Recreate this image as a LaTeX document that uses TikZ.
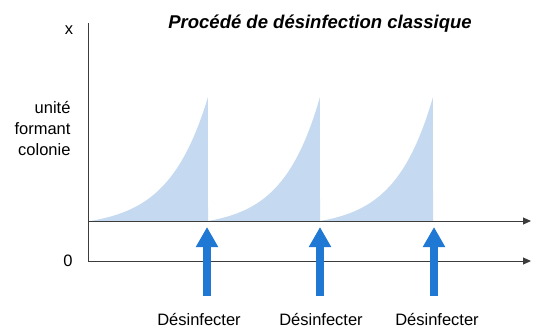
\documentclass[tikz,border=0pt]{standalone}
\usepackage{fontspec}
\setmainfont{Liberation Sans}
\usetikzlibrary{arrows.meta}
\definecolor{spikeblue}{RGB}{197,217,240}
\definecolor{arrowblue}{RGB}{31,120,212}
\definecolor{axisgray}{RGB}{60,60,60}
\begin{document}
\begin{tikzpicture}[x=1pt,y=-1pt,
  axis/.style={draw=axisgray, line width=1pt, -{Triangle[length=8pt,width=7pt]}},
  pulse/.style={draw=arrowblue, line width=8pt, -{Triangle[length=20pt,width=21pt]}},
  lbl/.style={font=\fontsize{16.5}{21}\selectfont}]
\useasboundingbox (0,0) rectangle (534,327);

% growth between two disinfections
\foreach \a/\b in {90/208, 208/320, 320/433} {
  \fill[spikeblue] plot[domain=0:1, samples=50] ({\a+(\b-\a)*\x}, {221-124*(exp(3*\x)-1)/(exp(3)-1)}) -- (\b,221) -- cycle;
}

\coordinate (top) at (88,23);
\coordinate (o) at (88,261);
\coordinate (base) at (88,221);
\coordinate (oend) at (531,261);
\coordinate (bend) at (531,221);

\path[draw,axisgray,line width=1pt] (top) -- (o);
\path[axis] (base) -- (bend);
\path[axis] (o) -- (oend);

\node[lbl] (xlab) at (69,30) {x};
\node[lbl] (zero) at (68,261) {0};
\node[lbl, align=right, anchor=east] (ufc) at (74,129) {unité\\formant\\colonie};
\node[font=\fontsize{18.5}{22}\selectfont\bfseries\itshape] (title) at (320,24) {Procédé de désinfection classique};

\node[lbl] (d1) at (199,319) {Désinfecter};
\node[lbl] (d2) at (321,319) {Désinfecter};
\node[lbl] (d3) at (437,319) {Désinfecter};

\coordinate (s1) at (207,296);
\coordinate (t1) at (207,227);
\coordinate (s2) at (320,296);
\coordinate (t2) at (320,227);
\coordinate (s3) at (434,296);
\coordinate (t3) at (434,227);

\path[pulse] (s1) -- (t1);
\path[pulse] (s2) -- (t2);
\path[pulse] (s3) -- (t3);
\end{tikzpicture}
\end{document}
